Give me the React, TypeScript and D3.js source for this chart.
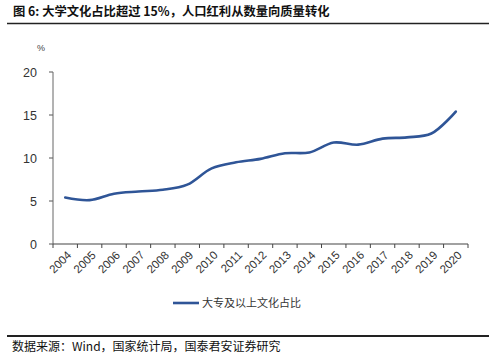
import React from "react";
import * as d3 from "d3";

const years = ["2004","2005","2006","2007","2008","2009","2010","2011","2012","2013","2014","2015","2016","2017","2018","2019","2020"];
const share = [5.4, 5.1, 5.85, 6.1, 6.3, 6.9, 8.8, 9.5, 9.9, 10.55, 10.65, 11.8, 11.55, 12.25, 12.4, 12.85, 15.4];
const yTicks = [0, 5, 10, 15, 20];
const title = "图 6:  大学文化占比超过 15%，人口红利从数量向质量转化";
const seriesName = "大专及以上文化占比";
const source = "数据来源：Wind，国家统计局，国泰君安证券研究";

export default function App() {
  const W = 500, H = 357;
  const left = 53, right = 468, top = 72, bottom = 244;
  const x = d3.scaleBand<string>().domain(years).range([left, right]).padding(0);
  const y = d3.scaleLinear().domain([0, 20]).range([bottom, top]);
  const line = d3.line<number>()
    .x((_, i) => (x(years[i]) as number) + x.bandwidth() / 2)
    .y((d) => y(d))
    .curve(d3.curveCatmullRom.alpha(0.5));
  const cjk = "'Noto Sans CJK SC', sans-serif";
  const lat = "'Liberation Sans', Arial, sans-serif";
  const blue = "#2F5597";
  return (
    <svg width={W} height={H} style={{ position: "absolute", left: 0, top: 0, background: "#fff" }}>
      <text x={13} y={16} fontFamily={cjk} fontWeight="bold" fontSize={12.3} fill="#111">{title}</text>
      <line x1={7} x2={489} y1={23.5} y2={23.5} stroke="#222" strokeWidth={1.3} />
      <text x={41} y={51} fontFamily={lat} fontSize={9} fill="#444" textAnchor="middle">%</text>
      {yTicks.map((t) => (
        <g key={t}>
          <line x1={left - 4} x2={left} y1={y(t)} y2={y(t)} stroke="#555" />
          <text x={37} y={y(t) + 4.5} fontFamily={lat} fontSize={12.5} fill="#333" textAnchor="end">{t}</text>
        </g>
      ))}
      <line x1={left} x2={left} y1={top} y2={bottom} stroke="#666" />
      <line x1={left} x2={right} y1={bottom} y2={bottom} stroke="#444" strokeWidth={1.2} />
      {[...years, "end"].map((yr, i) => {
        const px = left + i * x.bandwidth();
        return <line key={yr} x1={px} x2={px} y1={bottom} y2={bottom + 4} stroke="#444" />;
      })}
      {years.map((yr) => {
        const px = (x(yr) as number) + x.bandwidth() / 2 + 4;
        const py = bottom + 9;
        return (
          <text key={yr} x={px} y={py} fontFamily={lat} fontSize={11.5} fill="#333" textAnchor="end"
            transform={`rotate(-45 ${px} ${py})`} dy="0.35em">{yr}</text>
        );
      })}
      <path d={line(share) || ""} fill="none" stroke={blue} strokeWidth={2.6} strokeLinecap="round" />
      <line x1={173} x2={199} y1={303} y2={303} stroke={blue} strokeWidth={2.6} />
      <text x={202} y={307} fontFamily={cjk} fontSize={11} fill="#333">{seriesName}</text>
      <line x1={7} x2={489} y1={336} y2={336} stroke="#222" strokeWidth={1.8} />
      <text x={12} y={351} fontFamily={cjk} fontSize={12} fill="#111">{source}</text>
    </svg>
  );
}
